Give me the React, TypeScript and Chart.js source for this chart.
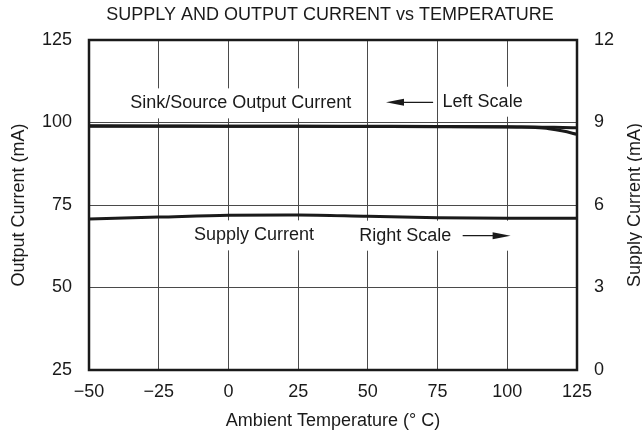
import React, { useEffect, useRef } from 'react';
import { Chart, registerables } from 'chart.js';

Chart.register(...registerables);

// ---- data ----
const outputTemps = [-50, -25, 0, 25, 50, 75, 100, 105, 110, 115, 120, 125];
const sinkCurrent = [99.0, 98.95, 98.9, 98.9, 98.85, 98.8, 98.7, 98.65, 98.6, 98.55, 98.5, 98.4];
const sourceCurrent = [98.9, 98.9, 98.85, 98.85, 98.8, 98.75, 98.65, 98.6, 98.45, 98.1, 97.4, 96.4];

const supplyTemps = [-50, -25, 0, 25, 50, 75, 100, 125];
const supplyCurrent = [5.49, 5.56, 5.63, 5.64, 5.59, 5.54, 5.52, 5.52];

const xTickLabels = ['\u221250', '\u221225', '0', '25', '50', '75', '100', '125'];
const leftTickLabels = ['25', '50', '75', '100', '125'];
const rightTickLabels = ['0', '3', '6', '9', '12'];

const chartTitle = 'SUPPLY AND OUTPUT CURRENT vs TEMPERATURE';
const xTitle = 'Ambient Temperature (\u00B0 C)';
const leftTitle = 'Output Current (mA)';
const rightTitle = 'Supply Current (mA)';

// annotations (x in °C, y on left scale in mA)
const noteTexts = ['Sink/Source Output Current', 'Left Scale', 'Supply Current', 'Right Scale'];
const noteX = [4.4, 76.8, 9.2, 46.9];
const noteY = [105.8, 106.3, 65.8, 65.7];
const noteAlign = ['center', 'left', 'center', 'left'];
const arrowFrom = [73.4, 84.0];
const arrowTo = [56.5, 101.2];
const arrowY = [106.1, 65.7];

const FONT = '"Liberation Sans", Arial, Helvetica, sans-serif';
const INK = '#1a1a1a';

export default function App() {
  const ref = useRef<HTMLCanvasElement | null>(null);

  useEffect(() => {
    document.body.style.margin = '0';
    const canvas = ref.current;
    if (!canvas) return;

    const decor = {
      id: 'decor',
      beforeDatasetsDraw(chart: any) {
        const { ctx, scales } = chart;
        const xs = scales.x;
        const ys = scales.y;
        ctx.save();
        ctx.font = `18px ${FONT}`;
        ctx.textBaseline = 'middle';
        // arrows backgrounds + arrows
        for (let i = 0; i < arrowFrom.length; i++) {
          const x1 = xs.getPixelForValue(arrowFrom[i]);
          const x2 = xs.getPixelForValue(arrowTo[i]);
          const y = ys.getPixelForValue(arrowY[i]);
          ctx.fillStyle = '#fff';
          ctx.fillRect(Math.min(x1, x2) - 3, y - 15, Math.abs(x2 - x1) + 6, 30);
          const dir = x2 > x1 ? 1 : -1;
          const headLen = 18;
          ctx.strokeStyle = INK;
          ctx.lineWidth = 1.2;
          ctx.beginPath();
          ctx.moveTo(x1, y);
          ctx.lineTo(x2 - dir * headLen * 0.8, y);
          ctx.stroke();
          ctx.fillStyle = INK;
          ctx.beginPath();
          ctx.moveTo(x2, y);
          ctx.lineTo(x2 - dir * headLen, y - 3.5);
          ctx.lineTo(x2 - dir * headLen, y + 3.5);
          ctx.closePath();
          ctx.fill();
        }
        for (let i = 0; i < noteTexts.length; i++) {
          const w = ctx.measureText(noteTexts[i]).width;
          let x = xs.getPixelForValue(noteX[i]);
          if (noteAlign[i] === 'center') x -= w / 2;
          const y = ys.getPixelForValue(noteY[i]);
          ctx.fillStyle = '#fff';
          ctx.fillRect(x - 4, y - 15, w + 8, 30);
          ctx.fillStyle = INK;
          ctx.textAlign = 'left';
          ctx.fillText(noteTexts[i], x, y);
        }
        ctx.restore();
      },
      afterDatasetsDraw(chart: any) {
        const { ctx, chartArea } = chart;
        const { left, right, top, bottom } = chartArea;
        ctx.save();
        ctx.strokeStyle = INK;
        ctx.lineWidth = 2.5;
        ctx.strokeRect(left, top, right - left, bottom - top);
        ctx.restore();
      },
      afterDraw(chart: any) {
        const { ctx, chartArea } = chart;
        ctx.save();
        ctx.fillStyle = INK;
        ctx.font = `18px ${FONT}`;
        ctx.textAlign = 'center';
        ctx.textBaseline = 'middle';
        ctx.fillText(chartTitle, (chartArea.left + chartArea.right) / 2 - 3, 15);
        ctx.translate(635, (chartArea.top + chartArea.bottom) / 2);
        ctx.rotate(-Math.PI / 2);
        ctx.fillText(rightTitle, 0, 0);
        ctx.restore();
      },
    };

    const tickFont = { family: FONT, size: 18 };
    const gridColor = '#4a4a4a';

    const chart = new Chart(canvas, {
      type: 'line',
      data: {
        datasets: [
          {
            label: 'Sink',
            data: outputTemps.map((t, i) => ({ x: t, y: sinkCurrent[i] })),
            borderColor: INK,
            borderWidth: 3,
            pointRadius: 0,
            cubicInterpolationMode: 'monotone',
            yAxisID: 'y',
          },
          {
            label: 'Source',
            data: outputTemps.map((t, i) => ({ x: t, y: sourceCurrent[i] })),
            borderColor: INK,
            borderWidth: 3,
            pointRadius: 0,
            cubicInterpolationMode: 'monotone',
            yAxisID: 'y',
          },
          {
            label: 'Supply',
            data: supplyTemps.map((t, i) => ({ x: t, y: supplyCurrent[i] })),
            borderColor: INK,
            borderWidth: 3,
            pointRadius: 0,
            cubicInterpolationMode: 'monotone',
            yAxisID: 'y2',
          },
        ],
      },
      options: {
        responsive: false,
        animation: false,
        events: [],
        layout: { padding: { top: 40, left: 0, right: 0, bottom: 0 } },
        plugins: {
          legend: { display: false },
          tooltip: { enabled: false },
          title: { display: false },
        },
        scales: {
          x: {
            type: 'linear',
            min: -50,
            max: 125,
            afterFit: (s: any) => { s.height = 69; },
            border: { display: false },
            grid: { color: gridColor, lineWidth: 1, drawTicks: false },
            ticks: {
              stepSize: 25,
              padding: 11,
              color: INK,
              font: tickFont,
              maxRotation: 0,
              callback: (_v: any, i: number) => xTickLabels[i],
            },
            title: {
              display: true,
              text: xTitle,
              color: INK,
              font: tickFont,
              padding: { top: 0, bottom: 7 },
            },
          },
          y: {
            type: 'linear',
            position: 'left',
            min: 25,
            max: 125,
            afterFit: (s: any) => { s.width = 89; },
            border: { display: false },
            grid: { color: gridColor, lineWidth: 1, drawTicks: false },
            ticks: {
              stepSize: 25,
              padding: 17,
              color: INK,
              font: tickFont,
              callback: (_v: any, i: number) => leftTickLabels[i],
            },
            title: {
              display: true,
              text: leftTitle,
              color: INK,
              font: tickFont,
              padding: { top: 8, bottom: 0 },
            },
          },
          y2: {
            type: 'linear',
            position: 'right',
            min: 0,
            max: 12,
            afterFit: (s: any) => { s.width = 65; },
            border: { display: false },
            grid: { display: false, drawTicks: false },
            ticks: {
              stepSize: 3,
              padding: 17,
              color: INK,
              font: tickFont,
              callback: (_v: any, i: number) => rightTickLabels[i],
            },
          },
        },
      },
      plugins: [decor],
    } as any);

    return () => chart.destroy();
  }, []);

  return (
    <div style={{ width: 642, height: 439, position: 'relative', background: '#fff' }}>
      <canvas ref={ref} width={642} height={439} />
    </div>
  );
}
